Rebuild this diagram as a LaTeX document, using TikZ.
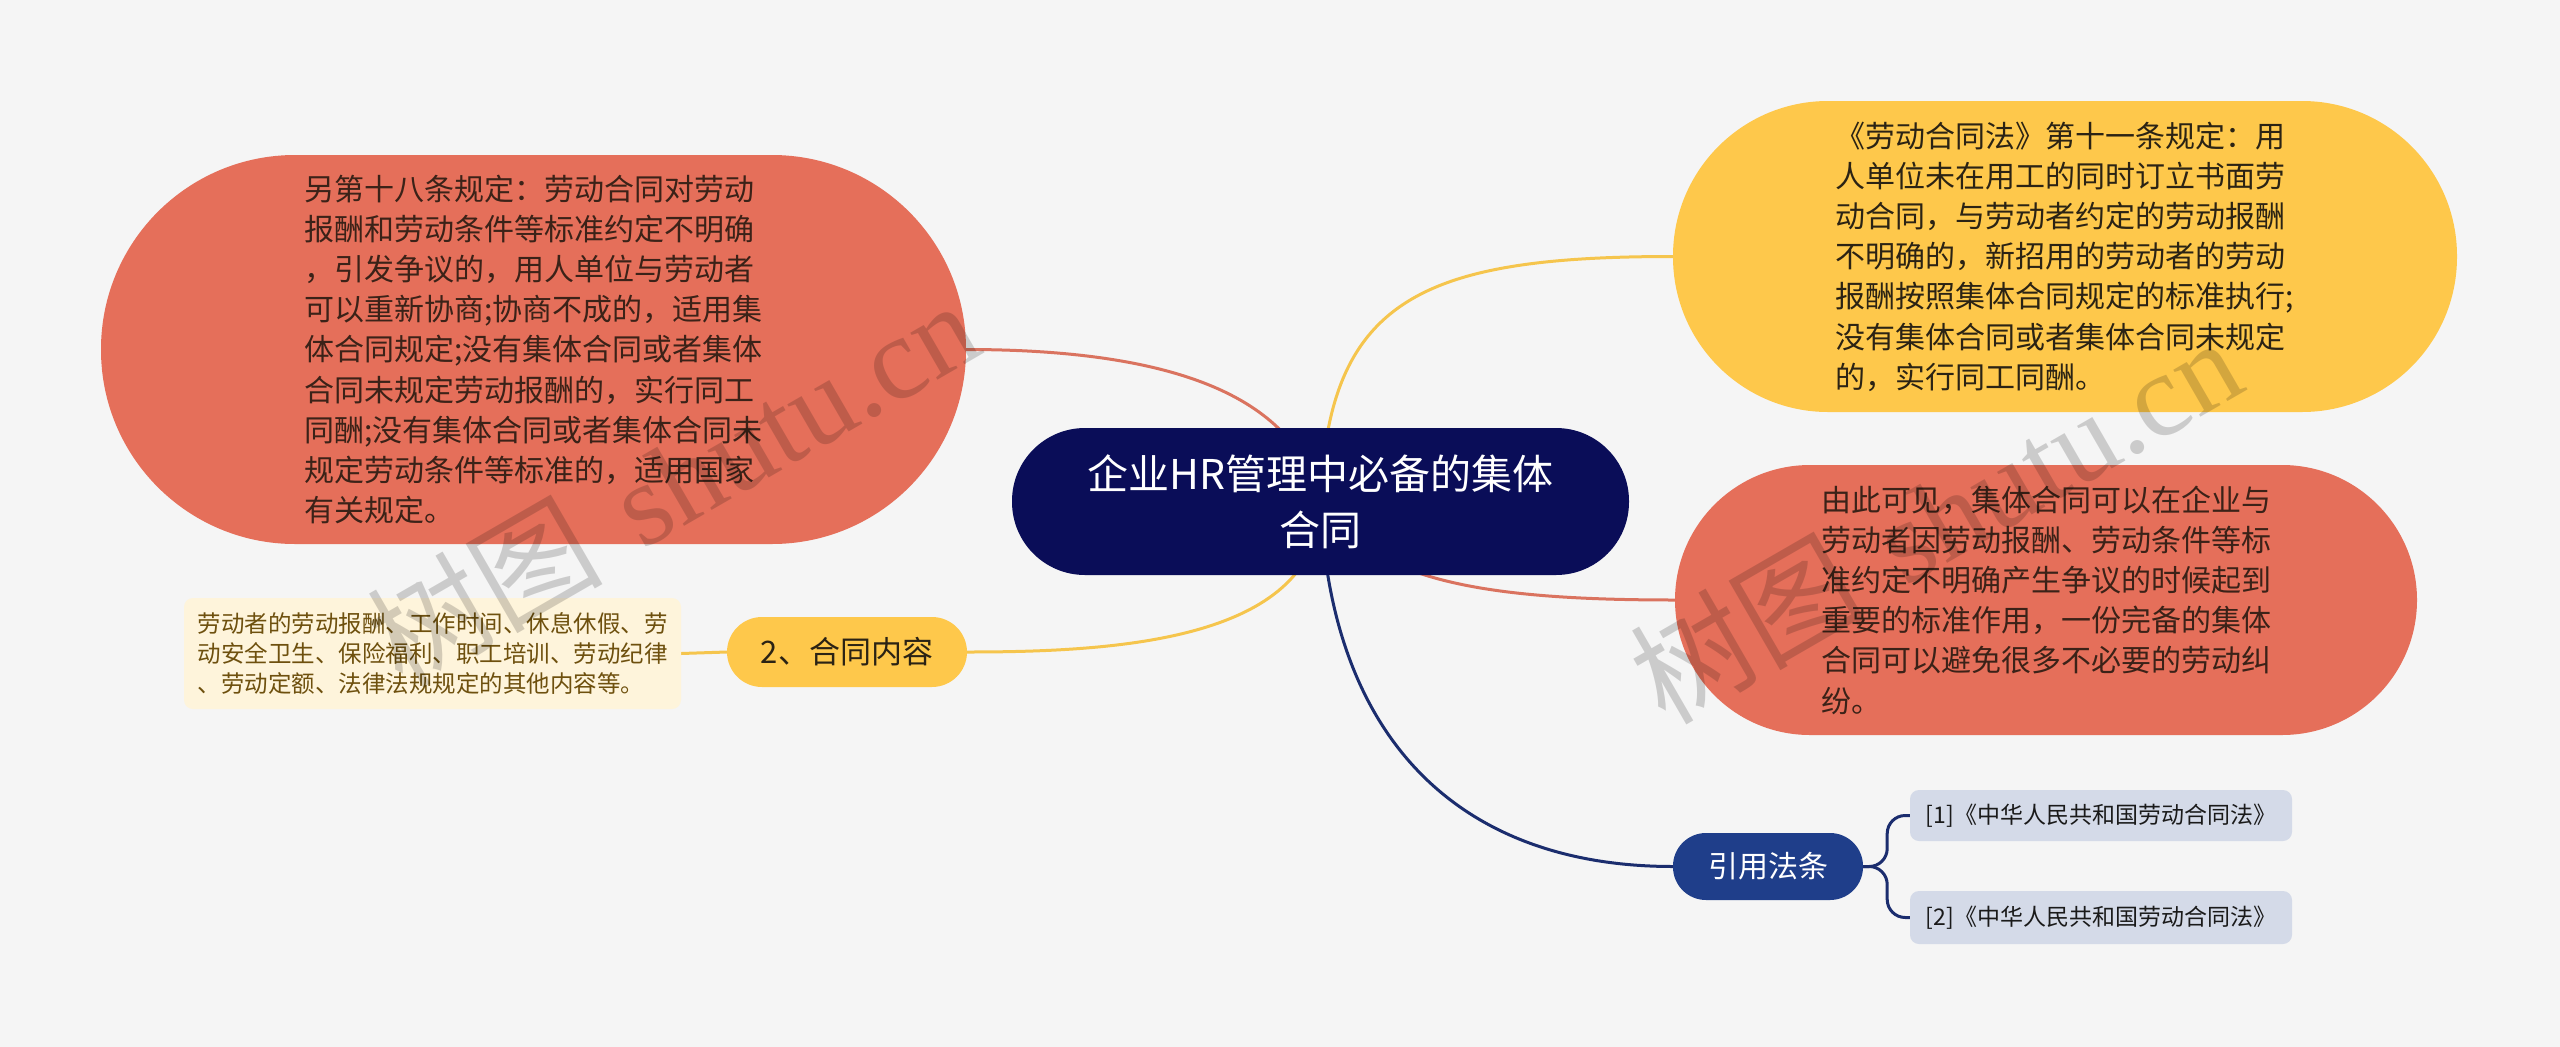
\documentclass[tikz,border=0pt]{standalone}
\usepackage{fontspec}
\setmainfont{Noto Sans CJK SC}
\newfontfamily\wmserif{Liberation Serif}
\pgfdeclarelayer{canvas}
\pgfdeclarelayer{links}
\pgfsetlayers{canvas,links,main}
\definecolor{bg}{HTML}{F5F5F5}
\definecolor{salmon}{HTML}{E56F5A}
\definecolor{salmonline}{HTML}{DA735F}
\definecolor{gold}{HTML}{FEC84B}
\definecolor{goldline}{HTML}{F5C54D}
\definecolor{rootblue}{HTML}{0A0D58}
\definecolor{navyline}{HTML}{1B2D6E}
\definecolor{qblue}{HTML}{1F3E8A}
\definecolor{leafgray}{HTML}{D4DAE8}
\definecolor{cream}{HTML}{FEF4DB}
\definecolor{creamtext}{HTML}{6E500E}
\definecolor{salmontext}{HTML}{3B2218}
\definecolor{goldtext}{HTML}{2B2314}
\definecolor{leaftext}{HTML}{1A1A1A}
\begin{document}
\begin{tikzpicture}[x=1pt,y=-1pt,
  conn/.style={line width=3pt},
  box/.style={rectangle, inner sep=0pt},
  bodytext/.style={font=\fontsize{30}{40.2}\selectfont, align=left},
  smalltext/.style={font=\fontsize{23.5}{30}\selectfont, align=left},
  watermark/.style={rotate=30, text=black, text opacity=0.17, font=\fontsize{118}{120}\selectfont}
]
\begin{pgfonlayer}{canvas}
\fill[bg] (0,0) rectangle (2560,1047);
\end{pgfonlayer}
\useasboundingbox (0,0) rectangle (2560,1047);

% nodes
\node[box, fill=rootblue, rounded corners=73pt, minimum width=617pt, minimum height=147pt,
  text=white, font=\fontsize{41}{56}\selectfont, align=center] (root) at (1320.5,501.5)
  {企业HR管理中必备的集体\\合同};

\node[box, fill=salmon, rounded corners=194pt, minimum width=865pt, minimum height=389pt,
  text=salmontext, bodytext] (l1) at (533.5,349.5)
  {另第十八条规定：劳动合同对劳动\\
   报酬和劳动条件等标准约定不明确\\
   ，引发争议的，用人单位与劳动者\\
   可以重新协商;协商不成的，适用集\\
   体合同规定;没有集体合同或者集体\\
   合同未规定劳动报酬的，实行同工\\
   同酬;没有集体合同或者集体合同未\\
   规定劳动条件等标准的，适用国家\\
   有关规定。};

\node[box, fill=gold, rounded corners=155pt, minimum width=784pt, minimum height=311pt,
  text=goldtext, bodytext] (y) at (2065,256.5)
  {《劳动合同法》第十一条规定：用\\
   人单位未在用工的同时订立书面劳\\
   动合同，与劳动者约定的劳动报酬\\
   不明确的，新招用的劳动者的劳动\\
   报酬按照集体合同规定的标准执行;\\
   没有集体合同或者集体合同未规定\\
   的，实行同工同酬。};

\node[box, fill=salmon, rounded corners=135pt, minimum width=742pt, minimum height=270pt,
  text=salmontext, bodytext] (r2) at (2046,600)
  {由此可见，集体合同可以在企业与\\
   劳动者因劳动报酬、劳动条件等标\\
   准约定不明确产生争议的时候起到\\
   重要的标准作用，一份完备的集体\\
   合同可以避免很多不必要的劳动纠\\
   纷。};

\node[box, fill=gold, rounded corners=35pt, minimum width=240pt, minimum height=70pt,
  text=goldtext, font=\fontsize{31}{36}\selectfont] (c2) at (847,652) {2、合同内容};

\node[box, fill=cream, rounded corners=9pt, minimum width=497pt, minimum height=111pt,
  text=creamtext, smalltext] (cream) at (432.5,653.5)
  {劳动者的劳动报酬、工作时间、休息休假、劳\\
   动安全卫生、保险福利、职工培训、劳动纪律\\
   、劳动定额、法律法规规定的其他内容等。};

\node[box, fill=qblue, rounded corners=33pt, minimum width=190pt, minimum height=67pt,
  text=white, font=\fontsize{30}{36}\selectfont] (q) at (1768,866.5) {引用法条};

\node[box, fill=leafgray, rounded corners=9pt, minimum width=382pt, minimum height=51pt,
  text=leaftext, font=\fontsize{23}{28}\selectfont] (leaf1) at (2101,815.5)
  {[1]《中华人民共和国劳动合同法》};
\node[box, fill=leafgray, rounded corners=9pt, minimum width=382pt, minimum height=53pt,
  text=leaftext, font=\fontsize{23}{28}\selectfont] (leaf2) at (2101,917.5)
  {[2]《中华人民共和国劳动合同法》};

% connectors
\begin{pgfonlayer}{links}
\draw[conn, salmonline] (l1.east) .. controls (1220,349.5) and (1300,420) .. (root.center);
\draw[conn, goldline] (root.center) .. controls (1328,300) and (1420,256.5) .. (y.west);
\draw[conn, salmonline] (root.center) .. controls (1370,580) and (1480,600) .. (r2.west);
\draw[conn, goldline] (root.center) .. controls (1320,640) and (1120,652) .. (c2.east);
\draw[conn, navyline] (root.center) .. controls (1330,740) and (1460,866.5) .. (q.west);
\draw[conn, goldline] (c2.west) -- (cream.east);
\draw[conn, navyline, rounded corners=18pt] (q.east) -- ++(24,0) |- (leaf1.west);
\draw[conn, navyline, rounded corners=18pt] (q.east) -- ++(24,0) |- (leaf2.west);
\end{pgfonlayer}

% watermarks
\node[watermark] (wm1) at (672,482) {树图\hspace{0.35em}{\wmserif shutu.cn}};
\node[watermark] (wm2) at (1935,519) {树图\hspace{0.35em}{\wmserif shutu.cn}};
\end{tikzpicture}
\end{document}
